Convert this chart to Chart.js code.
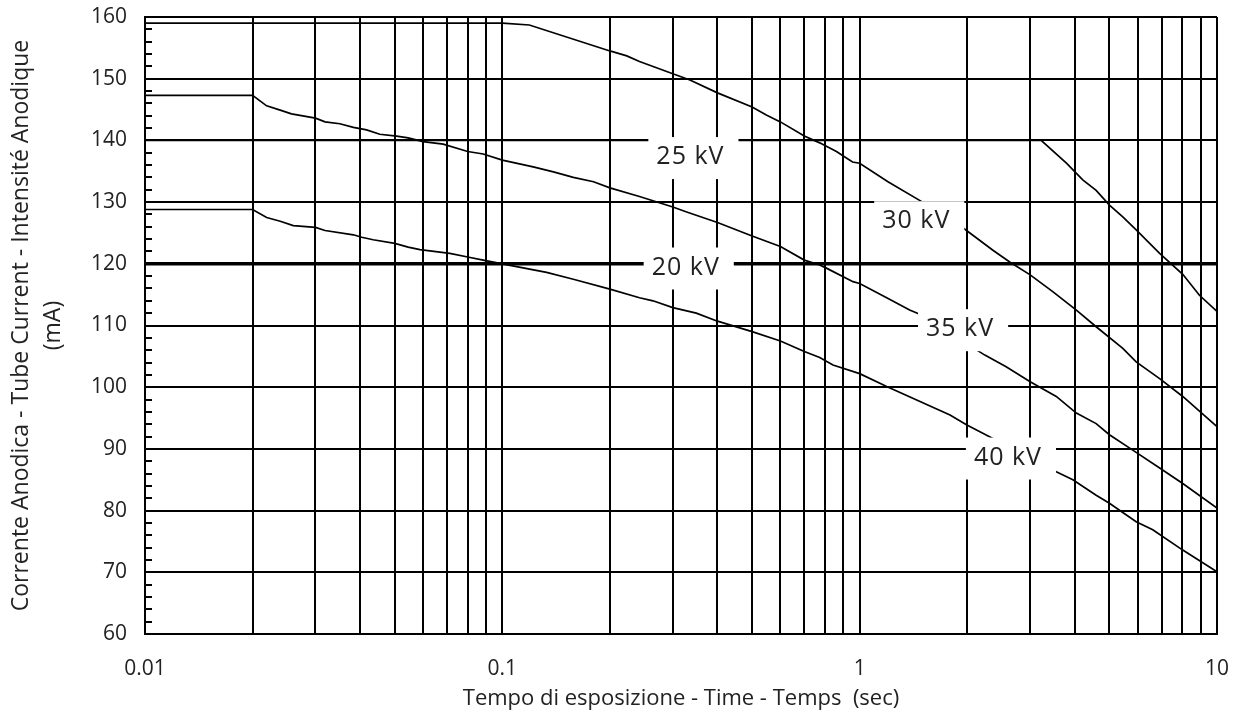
<!DOCTYPE html>
<html><head><meta charset="utf-8">
<script src="https://cdn.jsdelivr.net/npm/chart.js@4/dist/chart.umd.min.js"></script>
<style>html,body{margin:0;padding:0;background:#fff;} #wrap{width:1249px;height:722px;}</style>
</head><body><div id="wrap"><canvas id="c" width="1249" height="722"></canvas></div>
<script>
// ---- axis ticks ----
const xTicks = [0.01,0.02,0.03,0.04,0.05,0.06,0.07,0.08,0.09,0.1,0.2,0.3,0.4,0.5,0.6,0.7,0.8,0.9,1,2,3,4,5,6,7,8,9,10];
const xLabelledTicks = [0.01, 0.1, 1, 10];
const xLabelText = ['0.01', '0.1', '1', '10'];
const yMinorTicks = [62,64,66,68,72,74,76,78,82,84,86,88,92,94,96,98,102,104,106,108,112,114,116,118,122,124,126,128,132,134,136,138,142,144,146,148,152,154,156,158];

// ---- series: exposure time (s) and tube current (mA) ----
const t20 = [0.01, 10];
const i20 = [120, 120];

const t25 = [0.01, 3.22, 3.79, 4.21, 4.59, 5.0, 5.45, 5.94, 6.91, 8.02, 8.93, 10];
const i25 = [140, 140, 136.3, 133.6, 131.9, 129.5, 127.6, 125.5, 121.7, 118.3, 114.9, 112.3];

const t30 = [0.01, 0.1, 0.119, 0.2, 0.223, 0.242, 0.3, 0.335, 0.4, 0.5, 0.548, 0.6, 0.7, 0.773, 0.861, 0.955, 1.0, 1.2, 1.5, 1.97, 2.36, 2.63, 3.0, 3.47, 4.04, 4.59, 5.45, 5.94, 6.91, 8.02, 10];
const i30 = [159.0, 159.0, 158.7, 154.5, 153.7, 152.8, 150.8, 149.8, 147.7, 145.4, 144.1, 143.0, 140.7, 139.6, 138.2, 136.5, 136.3, 133.3, 130.0, 125.6, 122.2, 120.3, 118.2, 115.5, 112.5, 109.8, 106.3, 104.1, 101.4, 98.5, 93.6];

const t35 = [0.01, 0.02, 0.0219, 0.0239, 0.0257, 0.03, 0.0319, 0.0351, 0.0383, 0.0417, 0.0454, 0.0506, 0.0545, 0.06, 0.0683, 0.08, 0.0884, 0.1, 0.122, 0.139, 0.158, 0.18, 0.2, 0.242, 0.3, 0.328, 0.4, 0.5, 0.6, 0.7, 0.773, 0.807, 0.958, 1.0, 1.19, 1.38, 1.49, 2.24, 2.57, 3.0, 3.55, 4.04, 4.59, 5.0, 5.81, 6.91, 8.02, 10];
const i35 = [147.3, 147.3, 145.6, 144.9, 144.3, 143.6, 143.0, 142.7, 142.1, 141.7, 141.0, 140.7, 140.4, 139.8, 139.4, 138.2, 137.8, 136.8, 135.7, 134.9, 134.0, 133.3, 132.3, 130.9, 129.2, 128.4, 126.7, 124.5, 122.8, 120.6, 119.8, 119.3, 117.1, 116.8, 114.5, 112.5, 111.7, 105.2, 103.3, 100.9, 98.5, 95.8, 94.1, 92.3, 89.8, 86.9, 84.4, 80.4];

const t40 = [0.01, 0.02, 0.0219, 0.0239, 0.026, 0.03, 0.0319, 0.0383, 0.0404, 0.0435, 0.05, 0.0545, 0.0588, 0.0713, 0.08, 0.0884, 0.1, 0.133, 0.158, 0.2, 0.242, 0.264, 0.3, 0.349, 0.4, 0.5, 0.6, 0.7, 0.773, 0.842, 1.0, 1.19, 1.79, 1.99, 2.36, 3.55, 3.95, 4.59, 5.0, 5.94, 6.61, 8.02, 10];
const i40 = [128.8, 128.8, 127.5, 126.9, 126.2, 125.9, 125.4, 124.7, 124.3, 123.9, 123.3, 122.7, 122.3, 121.7, 121.1, 120.6, 120.0, 118.6, 117.5, 115.9, 114.5, 114.0, 112.9, 112.0, 110.7, 109.0, 107.5, 105.8, 104.8, 103.6, 102.2, 100.1, 95.5, 93.9, 91.7, 86.3, 85.0, 82.5, 81.2, 78.2, 76.9, 73.6, 70.1];

// ---- curve labels (anchored in data space) ----
const labelText = ['20 kV', '25 kV', '30 kV', '35 kV', '40 kV'];
const labelT = [0.326, 0.336, 1.44, 1.91, 2.60];
const labelI = [119.4, 137.3, 126.9, 109.4, 88.6];

const FONT = '"Open Sans", "DejaVu Sans", sans-serif';
const TEXT = '#222';

function pts(ts, is) { return ts.map((t, k) => ({x: t, y: is[k]})); }

const minorTickPlugin = {
  id: 'minorTicks',
  beforeDatasetsDraw(chart) {
    const {ctx, scales: {y}, chartArea} = chart;
    ctx.save();
    ctx.strokeStyle = '#000';
    ctx.lineWidth = 2;
    yMinorTicks.forEach(v => {
      const py = Math.round(y.getPixelForValue(v));
      ctx.beginPath();
      ctx.moveTo(chartArea.left, py);
      ctx.lineTo(chartArea.left + 7, py);
      ctx.stroke();
    });
    ctx.restore();
  }
};

const kvLabelPlugin = {
  id: 'kvLabels',
  afterDatasetsDraw(chart) {
    const {ctx, scales: {x, y}} = chart;
    ctx.save();
    ctx.font = '25px ' + FONT;
    try { ctx.letterSpacing = '1px'; } catch (e) {}
    ctx.textAlign = 'center';
    ctx.textBaseline = 'middle';
    labelText.forEach((txt, k) => {
      const px = x.getPixelForValue(labelT[k]);
      const py = y.getPixelForValue(labelI[k]);
      const w = ctx.measureText(txt).width + 22, h = 42;
      ctx.fillStyle = '#fff';
      ctx.fillRect(px - w / 2 + 3, py - h / 2 + 1, w, h);
      ctx.fillStyle = TEXT;
      ctx.fillText(txt, px, py);
    });
    ctx.restore();
  }
};

const lineStyle = {borderColor: '#000', borderWidth: 1.7, pointRadius: 0, tension: 0, fill: false};

new Chart(document.getElementById('c'), {
  type: 'line',
  data: {
    datasets: [
      Object.assign({label: '20 kV', data: pts(t20, i20)}, lineStyle, {borderWidth: 3.5}),
      Object.assign({label: '25 kV', data: pts(t25, i25)}, lineStyle),
      Object.assign({label: '30 kV', data: pts(t30, i30)}, lineStyle),
      Object.assign({label: '35 kV', data: pts(t35, i35)}, lineStyle),
      Object.assign({label: '40 kV', data: pts(t40, i40)}, lineStyle)
    ]
  },
  options: {
    responsive: false,
    animation: false,
    devicePixelRatio: 1,
    layout: {padding: {top: 17, right: 32, left: 0, bottom: 0}},
    plugins: {legend: {display: false}, tooltip: {enabled: false}},
    scales: {
      x: {
        type: 'logarithmic',
        min: 0.01, max: 10,
        afterBuildTicks: (s) => { s.ticks = xTicks.map(v => ({value: v})); },
        afterFit: (s) => { s.height = 88; s.paddingLeft = 0; s.paddingRight = 0; },
        grid: {color: '#000', lineWidth: 2, drawTicks: false},
        border: {color: '#000', width: 2},
        ticks: {
          autoSkip: false, maxRotation: 0, padding: 22,
          color: TEXT, font: {family: FONT, size: 21},
          callback: (v) => { const k = xLabelledTicks.findIndex(a => Math.abs(a - v) < 1e-9); return k >= 0 ? xLabelText[k] : ''; }
        },
        title: {display: true, text: 'Tempo di esposizione - Time - Temps  (sec)', color: TEXT,
                font: {family: FONT, size: 22}, padding: {top: 0, bottom: 10}}
      },
      y: {
        min: 60, max: 160,
        afterFit: (s) => { s.width = 145; s.paddingTop = 0; s.paddingBottom = 0; },
        grid: {color: '#000', lineWidth: 2, drawTicks: false},
        border: {color: '#000', width: 2},
        ticks: {stepSize: 10, padding: 18, color: TEXT, font: {family: FONT, size: 21}},
        title: {display: true, text: ['Corrente Anodica - Tube Current - Intensité Anodique', '(mA)'], color: TEXT,
                font: {family: FONT, size: 23, lineHeight: 1.39}, padding: {top: 5, bottom: 0}}
      }
    }
  },
  plugins: [minorTickPlugin, kvLabelPlugin]
});
</script>
</body></html>
